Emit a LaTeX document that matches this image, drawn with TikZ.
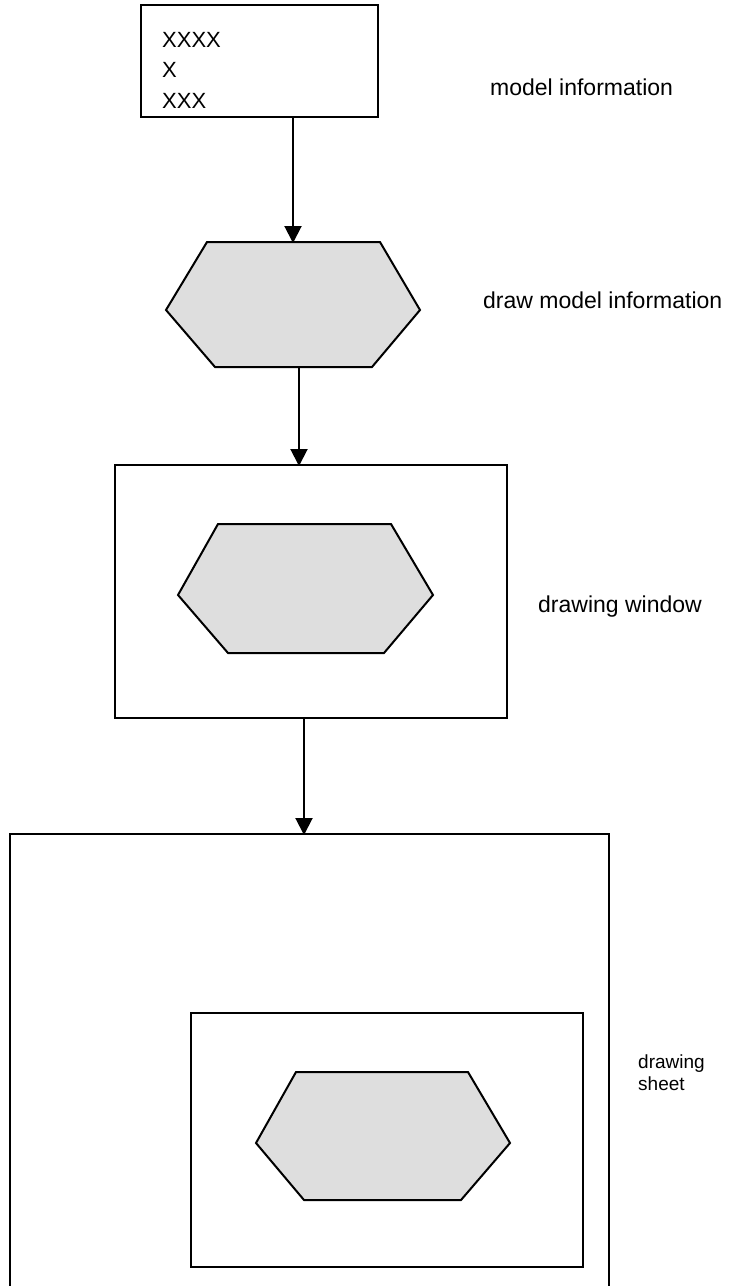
\documentclass[tikz,border=0pt]{standalone}
\usepackage{fontspec}
\setmainfont{Liberation Sans}
\usetikzlibrary{arrows.meta}
\begin{document}
\begin{tikzpicture}[x=1pt,y=-1pt,
  rect/.style={draw=black, line width=2pt, inner sep=0pt, outer sep=0pt, fill=white},
  hexa/.style={draw=black, line width=2pt, fill=black!13, line join=miter},
  arr/.style={draw=black, line width=2pt, -{Triangle[width=17pt,length=17pt]}, shorten >=-1pt},
  lbl/.style={anchor=base west, inner sep=0pt, font=\fontsize{23pt}{28pt}\selectfont},
  lblsm/.style={anchor=base west, inner sep=0pt, font=\fontsize{19pt}{22pt}\selectfont}
]
\useasboundingbox[fill=white] (0,0) rectangle (732,1286);

% model information box
\node[rect, minimum width=237pt, minimum height=112pt, anchor=north west] (info) at (141,5) {};
\node[lbl, font=\fontsize{22pt}{28pt}\selectfont] (t1) at (162,47) {XXXX};
\node[lbl, font=\fontsize{22pt}{28pt}\selectfont] (t2) at (162,77) {X};
\node[lbl, font=\fontsize{22pt}{28pt}\selectfont] (t3) at (162,108) {XXX};
\node[lbl] (l1) at (490,95) {model information};

% draw model information hexagon
\draw[hexa] (207,242) -- (380,242) -- (420,310) -- (372,367) -- (215,367) -- (166,310) -- cycle;
\coordinate (h1top) at (293,242);
\coordinate (h1bot) at (299,367);
\node[lbl] (l2) at (483,308) {draw model information};

% drawing window
\node[rect, minimum width=392pt, minimum height=253pt, anchor=north west] (win) at (115,465) {};
\draw[hexa] (218,524) -- (391,524) -- (433,595) -- (384,653) -- (228,653) -- (178,595) -- cycle;
\node[lbl] (l3) at (538,612) {drawing window};
\coordinate (wtop) at (299,465);
\coordinate (wbot) at (304,718);

% drawing sheet
\node[rect, minimum width=599pt, minimum height=480pt, anchor=north west] (sheet) at (10,834) {};
\coordinate (stop) at (304,834);
\node[rect, minimum width=392pt, minimum height=254pt, anchor=north west] (inner) at (191,1013) {};
\draw[hexa] (296,1072) -- (468,1072) -- (510,1143) -- (461,1200) -- (304,1200) -- (256,1143) -- cycle;
\node[lblsm] (l4) at (638,1068) {drawing};
\node[lblsm] (l5) at (638,1090) {sheet};

% connectors
\draw[arr] (info.south -| h1top) -- (h1top);
\draw[arr] (h1bot) -- (wtop);
\draw[arr] (wbot) -- (stop);
\end{tikzpicture}
\end{document}
